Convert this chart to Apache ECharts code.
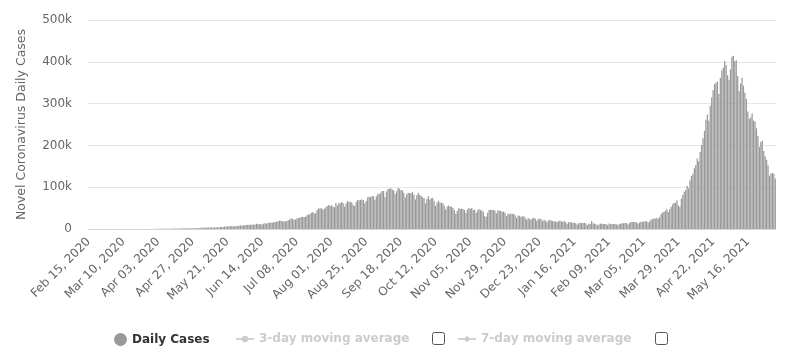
<!DOCTYPE html>
<html><head><meta charset="utf-8">
<script src="https://cdn.jsdelivr.net/npm/echarts@6/dist/echarts.min.js"></script>
<style>html,body{margin:0;padding:0;background:#fff}#c{width:798px;height:357px}</style>
</head><body><div id="c"></div>
<script>
// Daily new cases, Feb 15 2020 .. Jun 4 2021 (one value per day)
const startDate = '2020-02-15';
const feb2020 = [0,0,0,0,0,0,0,0,0,0,0,0,0,0,0];
const mar2020 = [0,2,1,22,2,1,3,5,4,13,6,11,10,20,11,6,23,14,38,50,86,66,103,37,121,70,160,100,65,172,290];
const apr2020 = [424,486,560,579,609,484,573,565,813,871,854,758,1243,1031,886,1061,922,1371,1580,1239,1537,1292,1667,1408,1835,1607,1561,1873,1738,1801];
const may2020 = [2396,2564,2952,3656,2971,3587,3364,3344,3339,4213,3607,3524,3763,3942,3787,4864,5050,4630,6147,5553,6198,6568,6629,7113,6414,6535,6387,7466,7964,8380,8392];
const jun2020 = [8171,9633,9851,9887,9971,9983,9987,10882,9985,12375,11458,11929,11502,10667,12881,13586,12881,14516,15413,14821,14933,15968,16922,17296,18552,19906,19459,18522,18653,18800];
const jul2020 = [19148,20903,22771,24850,24248,22252,22752,24879,26506,27114,28637,28701,28498,29429,32695,34956,34884,38902,40425,37148,37724,45720,49310,48916,49931,46484,48513,52123,55078,57118,54736];
const aug2020 = [57000,52972,52050,62538,56282,62170,61537,64399,62064,53601,60963,66999,64553,65002,63490,57981,55079,64531,69652,68898,69878,70488,69239,61408,67151,75760,77266,76472,78761,78512,69921];
const sep2020 = [78357,83883,83341,86432,90632,90802,75809,89706,95735,96551,97570,94372,92071,83809,90123,97894,96424,93337,92605,86961,75083,83347,86508,86052,85362,88600,82170,70589,80472,86821];
const oct2020 = [81484,79476,75829,74442,61267,72049,78524,70496,73272,74383,66732,55342,63509,67708,63371,62212,61871,55722,46790,54044,55839,54366,53370,50129,45149,36470,43893,49881,48648,48268,46963];
const nov2020 = [45231,38310,46253,50210,47638,50357,45674,45903,38073,44281,47905,44879,44878,41100,30548,29164,38617,45576,45882,46232,45209,44059,37975,44376,44489,43082,41322,41810,38772,31118];
const dec2020 = [36604,35551,36595,36652,36011,32981,26567,32080,31521,29398,30006,30254,27071,22065,26382,24010,22890,25153,26624,24337,19556,23950,24712,23067,18732,22273,20021,16432,20549,21822,20036];
const jan2021 = [19078,18177,18177,16504,18088,20346,18139,18222,18645,16311,12584,15968,16946,15590,15158,15144,13788,10064,13823,15223,14545,14256,14849,13203,9102,12689,11666,18855,13083,13052,11427];
const feb2021 = [8635,11039,12899,12408,11713,12059,11831,9110,12923,11067,12143,12194,12143,11649,9121,11610,12881,13193,13993,14199,14264,10584,13742,16738,16577,16488,16752,15510];
const mar2021 = [12286,14989,17407,16838,18327,18711,18599,15388,17921,22854,23285,24882,25320,26291,24492,28903,35871,39726,40953,43846,46951,40715,47262,53476,59118,62258,62714,68020,56211,53480,72330];
const apr2021 = [81466,89129,93249,103558,96982,115736,126789,131968,145384,152879,168912,161736,184372,200739,217353,234692,261500,273810,259170,295041,314835,332730,346786,349691,352991,323144,360960,379257,386452,401993];
const may2021 = [392488,368147,357229,382315,412262,414188,401078,403738,366161,329942,348421,362727,343144,326098,311170,281386,263533,267334,276070,259551,257299,240842,222315,196427,208921,211298,186364,173790,165553,152734,127510];
const jun2021 = [132788,134154,132364,120529];

const dailyCases = [].concat(feb2020,mar2020,apr2020,may2020,jun2020,jul2020,aug2020,sep2020,oct2020,nov2020,dec2020,jan2021,feb2021,mar2021,apr2021,may2021,jun2021);
const yTicks = [0,100000,200000,300000,400000,500000];
const seriesNames = ['Daily Cases','3-day moving average','7-day moving average'];

const MON = ['Jan','Feb','Mar','Apr','May','Jun','Jul','Aug','Sep','Oct','Nov','Dec'];
const categories = [];
{
  const d0 = new Date(startDate + 'T00:00:00Z');
  for (let i = 0; i < dailyCases.length; i++) {
    const d = new Date(d0.getTime() + i * 86400000);
    const dd = String(d.getUTCDate()).padStart(2,'0');
    categories.push(MON[d.getUTCMonth()] + ' ' + dd + ', ' + d.getUTCFullYear());
  }
}

const chart = echarts.init(document.getElementById('c'), null, {renderer:'canvas'});
const FONT = 'DejaVu Sans';
chart.setOption({
  animation: false,
  backgroundColor: '#ffffff',
  textStyle: {fontFamily: FONT},
  grid: {left: 88, right: 22, top: 20, bottom: 128, containLabel: false},
  xAxis: {
    type: 'category', data: categories,
    axisLine: {lineStyle: {color: '#ccd6eb'}},
    axisTick: {show: false},
    axisLabel: {interval: 23, rotate: 45, color: '#666666', fontSize: 12, fontFamily: FONT, margin: 11}
  },
  yAxis: {
    type: 'value', min: yTicks[0], max: yTicks[yTicks.length-1], interval: 100000,
    name: 'Novel Coronavirus Daily Cases', nameLocation: 'middle', nameGap: 60,
    nameTextStyle: {color: '#666666', fontSize: 12.5, fontFamily: FONT},
    axisLine: {show: false}, axisTick: {show: false},
    splitLine: {lineStyle: {color: '#e6e6e6'}},
    axisLabel: {color: '#666666', fontSize: 12, fontFamily: FONT, margin: 16,
      formatter: v => v === 0 ? '0' : (v/1000) + 'k'}
  },
  legend: [
    {data: [seriesNames[0]], left: 109, top: 328, icon: 'circle', itemWidth: 13, itemHeight: 13, itemGap: 0,
     textStyle: {fontWeight: 'bold', fontSize: 12, color: '#333333', fontFamily: FONT}, inactiveColor: '#cccccc',
     selectedMode: false},
    {data: [seriesNames[1]], left: 230, top: 328, itemWidth: 18, itemHeight: 8,
     textStyle: {fontWeight: 'bold', fontSize: 12, color: '#333333', fontFamily: FONT}, inactiveColor: '#cccccc',
     selected: {'3-day moving average': false}},
    {data: [seriesNames[2]], left: 452, top: 328, itemWidth: 18, itemHeight: 8,
     textStyle: {fontWeight: 'bold', fontSize: 12, color: '#333333', fontFamily: FONT}, inactiveColor: '#cccccc',
     selected: {'7-day moving average': false}}
  ],
  graphic: [
    {type: 'rect', left: 432, top: 332, shape: {width: 12, height: 12, r: 2}, style: {fill: '#fff', stroke: '#555', lineWidth: 1}},
    {type: 'rect', left: 655, top: 332, shape: {width: 12, height: 12, r: 2}, style: {fill: '#fff', stroke: '#555', lineWidth: 1}}
  ],
  series: [
    {name: seriesNames[0], type: 'bar', data: dailyCases, itemStyle: {color: '#999999'}, barCategoryGap: '15%', large: false},
    {name: seriesNames[1], type: 'line', data: [], symbol: 'circle', itemStyle: {color: '#999999'}},
    {name: seriesNames[2], type: 'line', data: [], symbol: 'diamond', itemStyle: {color: '#999999'}}
  ]
});
</script></body></html>
